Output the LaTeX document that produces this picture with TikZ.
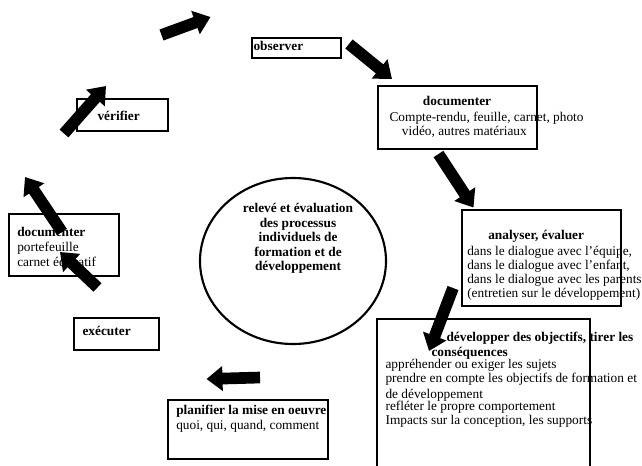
\documentclass[tikz,border=0pt]{standalone}
\usepackage{fontspec}
\setmainfont{Liberation Serif}
\usetikzlibrary{arrows.meta,fit,shapes.geometric}
\begin{document}
\begin{tikzpicture}[x=0.75pt,y=-0.75pt,
  box/.style={draw,line width=0.95pt,inner sep=0pt},
  txt/.style={anchor=base west,inner sep=0pt,font=\fontsize{10}{12}\selectfont},
  ttl/.style={anchor=base west,inner sep=0pt,font=\fontsize{10}{12}\selectfont\bfseries},
  ctr/.style={anchor=base,inner sep=0pt,font=\fontsize{10}{12}\selectfont\bfseries},
  blockarrow/.style={line width=8.75pt,-{Triangle[length=12pt,width=18pt]}}]
\useasboundingbox (0,0) rectangle (642,465);

% boxes
\node[box,fit={(252,38) (341,58)}] (obsbox) {};
\node[box,fit={(77,99) (168,131)}] (verbox) {};
\node[box,fit={(378,86) (537,149)}] (docbox) {};
\node[box,fit={(9,214) (119,276)}] (docleftbox) {};
\node[box,fit={(74,318) (159,350)}] (exebox) {};
\node[box,fit={(462,210) (621,306)}] (anabox) {};
\node[box,fit={(168,400) (328,459)}] (plabox) {};
\coordinate (devbl) at (377,466);
\coordinate (devtl) at (377,319);
\coordinate (devtr) at (590,319);
\coordinate (devbr) at (590,466);
\draw[line width=0.95pt] (devbl) -- (devtl) -- (devtr) -- (devbr);

% central ellipse
\node[draw,ellipse,line width=1.6pt,minimum width=139.5pt,minimum height=124.5pt,inner sep=0pt] (core) at (293,261) {};
\node[ctr] (c1) at (298,212.7) {relevé et évaluation};
\node[ctr] (c2) at (298,227.3) {des processus};
\node[ctr] (c3) at (298,241.7) {individuels de};
\node[ctr] (c4) at (298,256) {formation et de};
\node[ctr] (c5) at (298,270.7) {développement};

% texts
\node[ttl] (obs) at (253.3,50) {observer};
\node[ttl] (ver) at (97.3,120.7) {vérifier};
\node[ttl] (exe) at (82.3,335) {exécuter};

\node[ttl] (doc1) at (422.7,105.7) {documenter};
\node[txt] (doc2) at (389.3,121) {Compte-rendu, feuille, carnet, photo};
\node[txt] (doc3) at (401.7,135.7) {vidéo, autres matériaux};

\node[ttl] (dl1) at (17,236.7) {documenter};
\node[txt] (dl2) at (17,251) {portefeuille};
\node[txt] (dl3) at (17,266) {carnet éducatif};

\node[ttl] (ana1) at (488,239.3) {analyser, évaluer};
\node[txt] (ana2) at (467,255) {dans le dialogue avec l’équipe,};
\node[txt] (ana3) at (467,269.3) {dans le dialogue avec l’enfant,};
\node[txt] (ana4) at (467,283.3) {dans le dialogue avec les parents};
\node[txt] (ana5) at (467,297.7) {(entretien sur le développement)};

\node[ttl] (dev1) at (446.3,341.7) {développer des objectifs, tirer les};
\node[ttl] (dev2) at (431.3,356.7) {conséquences};
\node[txt] (dev3) at (385.3,368.3) {appréhender ou exiger les sujets};
\node[txt] (dev4) at (385.3,382.3) {prendre en compte les objectifs de formation et};
\node[txt] (dev5) at (385.3,398.3) {de développement};
\node[txt] (dev6) at (385.3,410.7) {refléter le propre comportement};
\node[txt] (dev7) at (385.3,424.3) {Impacts sur la conception, les supports};

\node[ttl] (pla1) at (176,414) {planifier la mise en oeuvre};
\node[txt] (pla2) at (176,429) {quoi, qui, quand, comment};

% arrows
\coordinate (a1s) at (161.5,35);   \coordinate (a1e) at (210.5,17);
\coordinate (a2s) at (64,133.5);   \coordinate (a2e) at (106,86);
\coordinate (a3s) at (349,44);     \coordinate (a3e) at (392,79);
\coordinate (a4s) at (438.5,154);  \coordinate (a4e) at (473.5,207.5);
\coordinate (a5s) at (453,288);    \coordinate (a5e) at (429,351);
\coordinate (a6s) at (260,377.5);  \coordinate (a6e) at (206.5,379);
\coordinate (a7s) at (97.5,287.5); \coordinate (a7e) at (60,252);
\coordinate (a8s) at (62,232);     \coordinate (a8e) at (25,177);
\foreach \s/\e in {a1s/a1e,a2s/a2e,a3s/a3e,a4s/a4e,a5s/a5e,a6s/a6e,a7s/a7e,a8s/a8e}
  \draw[blockarrow] (\s) -- (\e);
\end{tikzpicture}
\end{document}
